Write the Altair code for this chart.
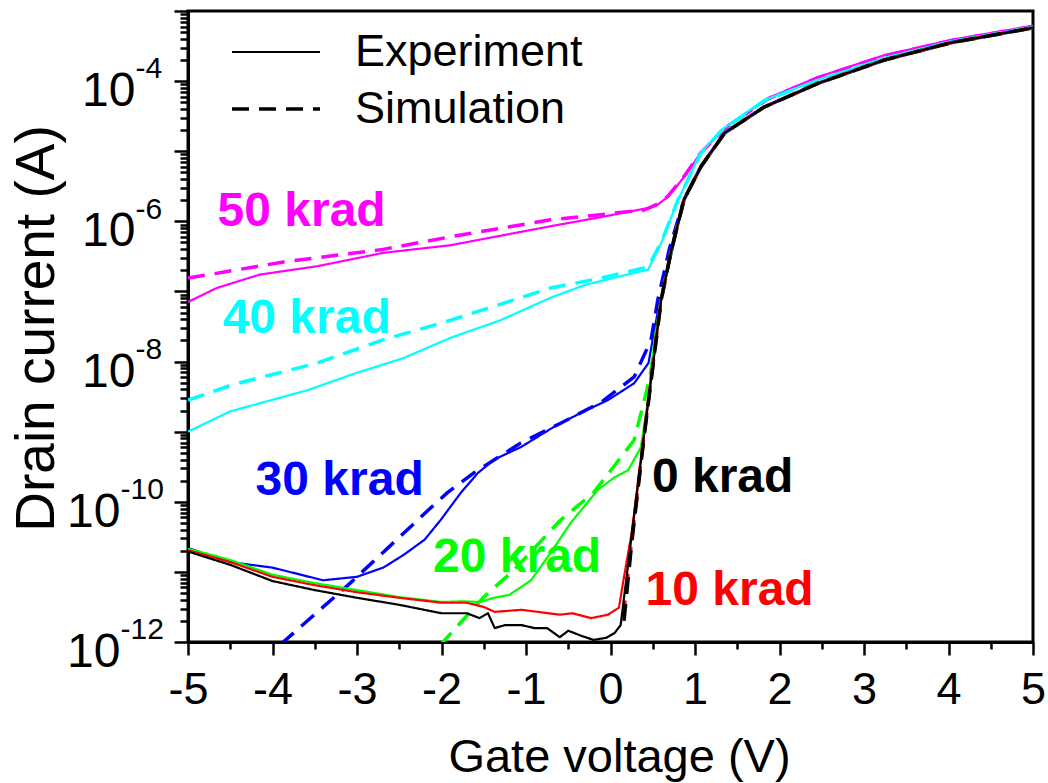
import altair as alt
import pandas as pd

# ---------------- data (gate voltage V, drain current A) ----------------
DOSES = ["0 krad", "10 krad", "20 krad", "30 krad", "40 krad", "50 krad"]
COLORS = ["#000000", "#ff0000", "#00ff00", "#0000ff", "#00ffff", "#ff00ff"]
KINDS = ["Experiment", "Simulation"]

# common above-threshold branch (curves merge there)
U_V = [0.6, 0.72, 0.87, 1.07, 1.35, 1.82, 2.46, 3.24, 4.04, 5.0]
U_I = [7.59e-8, 3.89e-7, 2.04e-6, 6.03e-6, 1.82e-5, 4.27e-5, 9.33e-5, 2.00e-4, 3.55e-4, 5.75e-4]

exp0_V = [-5, -4.5, -4, -3.5, -3, -2.5, -2, -1.7, -1.55, -1.45, -1.37, -1.25, -1.05, -0.9, -0.75,
          -0.6, -0.5, -0.35, -0.2, -0.05, 0.05, 0.12, 0.25, 0.39, 0.48]
exp0_I = [1.95e-11, 1.26e-11, 7.4e-12, 5.5e-12, 4.27e-12, 3.39e-12, 2.57e-12, 2.57e-12, 2.19e-12,
          2.57e-12, 1.58e-12, 1.74e-12, 1.74e-12, 1.58e-12, 1.58e-12, 1.17e-12, 1.45e-12, 1.23e-12,
          1.07e-12, 1.15e-12, 1.35e-12, 1.74e-12, 3.24e-11, 7.59e-10, 5.50e-9]

exp10_V = [-5, -4.5, -4, -3.5, -3, -2.5, -2, -1.7, -1.5, -1.37, -1.05, -0.6, -0.45, -0.23, -0.03,
           0.1, 0.16, 0.25, 0.39, 0.48]
exp10_I = [2.04e-11, 1.38e-11, 8.51e-12, 6.46e-12, 5.13e-12, 4.27e-12, 3.63e-12, 3.63e-12, 3.16e-12,
           2.69e-12, 2.88e-12, 2.45e-12, 2.57e-12, 2.19e-12, 2.45e-12, 3.09e-12, 8.51e-12, 3.55e-11,
           7.94e-10, 5.75e-9]

exp20_V = [-5, -4.5, -4, -3.5, -3, -2.5, -2, -1.75, -1.54, -1.38, -1.2, -0.94, -0.71, -0.47, -0.15,
           0.05, 0.21, 0.36, 0.45, 0.52]
exp20_I = [2.14e-11, 1.48e-11, 9.12e-12, 6.92e-12, 5.50e-12, 4.37e-12, 3.72e-12, 3.80e-12, 3.72e-12,
           4.27e-12, 4.68e-12, 7.59e-12, 1.86e-11, 5.01e-11, 1.48e-10, 2.24e-10, 2.82e-10, 6.03e-10,
           3.16e-9, 2.0e-8]

exp30_V = [-5, -4.5, -4, -3.5, -3.4, -3.0, -2.69, -2.45, -2.2, -2.01, -1.77, -1.57, -1.38, -1.06,
           -0.67, -0.35, -0.03, 0.28, 0.45, 0.55]
exp30_I = [2.19e-11, 1.38e-11, 1.15e-11, 8.13e-12, 7.59e-12, 8.51e-12, 1.15e-11, 1.74e-11, 2.88e-11,
           5.50e-11, 1.35e-10, 2.57e-10, 3.98e-10, 6.03e-10, 1.17e-9, 1.86e-9, 2.82e-9, 4.90e-9,
           9.55e-9, 4.47e-8]

exp40_V = [-5, -4.5, -3.59, -3.0, -2.45, -1.89, -1.3, -0.71, -0.31, 0.09, 0.445, 0.6, 0.8, 1.07,
           1.31, 1.82, 2.46, 3.24, 4.04, 5.0]
exp40_I = [1.0e-9, 1.95e-9, 3.89e-9, 6.92e-9, 1.12e-8, 2.19e-8, 3.89e-8, 8.13e-8, 1.23e-7, 1.62e-7,
           2.04e-7, 4.90e-7, 2.04e-6, 9.55e-6, 2.00e-5, 5.37e-5, 1.05e-4, 2.14e-4, 3.72e-4, 5.89e-4]

exp50_V = [-5, -4.66, -4.15, -3.47, -2.69, -1.89, -0.71, -0.11, 0.48, 0.55, 0.68, 0.87, 1.07, 1.39,
           1.87, 2.46, 3.24, 4.04, 5.0]
exp50_I = [7.08e-8, 1.12e-7, 1.74e-7, 2.29e-7, 3.55e-7, 4.57e-7, 8.51e-7, 1.15e-6, 1.58e-6, 1.70e-6,
           2.24e-6, 4.27e-6, 9.55e-6, 2.34e-5, 5.75e-5, 1.15e-4, 2.34e-4, 3.89e-4, 6.17e-4]

sim0_V = [0.16, 0.25, 0.39, 0.48]
sim0_I = [2.0e-12, 2.51e-11, 7.08e-10, 5.25e-9]

sim10_V = [0.15, 0.25, 0.39, 0.48]
sim10_I = [2.24e-12, 2.82e-11, 7.59e-10, 5.50e-9]

sim20_V = [-2.02, -1.5, -1.14, -0.59, -0.2, 0.28, 0.4, 0.47]
sim20_I = [8.91e-13, 4.37e-12, 1.07e-11, 5.50e-11, 1.35e-10, 7.59e-10, 2.82e-9, 6.31e-9]

sim30_V = [-3.9, -3.08, -2.13, -1.93, -1.62, -1.06, -0.59, -0.11, 0.28, 0.48, 0.56, 0.7, 0.87,
           1.07, 1.35, 1.82, 2.46, 3.24, 4.04, 5.0]
sim30_I = [9.33e-13, 6.92e-12, 8.13e-11, 1.35e-10, 2.57e-10, 6.92e-10, 1.32e-9, 2.63e-9, 6.03e-9,
           2.04e-8, 7.59e-8, 4.17e-7, 2.04e-6, 6.03e-6, 1.82e-5, 4.27e-5, 9.33e-5, 2.00e-4, 3.55e-4,
           5.75e-4]

sim40_V = [-5, -4.47, -3.47, -2.69, -1.89, -0.71, -0.11, 0.445, 0.6, 0.8, 1.07, 1.31, 1.82, 2.46,
           3.24, 4.04, 5.0]
sim40_I = [2.82e-9, 4.68e-9, 9.55e-9, 2.04e-8, 3.89e-8, 1.12e-7, 1.55e-7, 2.24e-7, 5.01e-7, 2.04e-6,
           9.33e-6, 1.95e-5, 5.25e-5, 1.02e-4, 2.09e-4, 3.63e-4, 5.89e-4]

sim50_V = [-5, -3.87, -2.69, -1.89, -0.71, 0.4, 0.55, 0.68, 0.87, 1.07, 1.39, 1.87, 2.46, 3.24,
           4.04, 5.0]
sim50_I = [1.55e-7, 2.63e-7, 3.98e-7, 6.03e-7, 1.05e-6, 1.45e-6, 1.74e-6, 2.29e-6, 4.37e-6,
           9.55e-6, 2.29e-5, 5.62e-5, 1.12e-4, 2.29e-4, 3.80e-4, 6.03e-4]

# curve annotations (text, dose, anchor V, anchor I)
ANN_TEXT = ["50 krad", "40 krad", "30 krad", "20 krad", "0 krad", "10 krad"]
ANN_V = [-4.65, -4.59, -4.2, -2.1, 0.49, 0.415]
ANN_I = [1.35e-6, 4.0e-8, 2.0e-10, 1.6e-11, 2.2e-10, 5.3e-12]

# ---------------- build tables ----------------
series = [
    ("50 krad", "Simulation", sim50_V, sim50_I),
    ("50 krad", "Experiment", exp50_V, exp50_I),
    ("40 krad", "Simulation", sim40_V, sim40_I),
    ("40 krad", "Experiment", exp40_V, exp40_I),
    ("30 krad", "Simulation", sim30_V, sim30_I),
    ("30 krad", "Experiment", exp30_V + U_V[2:], exp30_I + U_I[2:]),
    ("20 krad", "Simulation", sim20_V + U_V, sim20_I + U_I),
    ("20 krad", "Experiment", exp20_V + U_V, exp20_I + U_I),
    ("10 krad", "Simulation", sim10_V + U_V, sim10_I + U_I),
    ("10 krad", "Experiment", exp10_V + U_V, exp10_I + U_I),
    ("0 krad", "Simulation", sim0_V + U_V, sim0_I + U_I),
    ("0 krad", "Experiment", exp0_V + U_V, exp0_I + U_I),
]
rows = []
for k, (dose, kind, vs, cur) in enumerate(series):
    for v, i in zip(vs, cur):
        rows.append({"V": v, "I": i, "dose": dose, "kind": kind, "lw": kind,
                     "series": f"{k:02d}"})
df = pd.DataFrame(rows)

ann = pd.DataFrame({"label": ANN_TEXT, "dose": ANN_TEXT, "V": ANN_V, "I": ANN_I})

XTICKS = [i / 2 for i in range(-10, 11)]
YTICKS = [float(f"1e{e}") for e in range(-12, -2)] + [
    float(f"{m}e{e}") for e in range(-12, -3) for m in range(2, 10)]
YEXP = [1e-12, 1e-10, 1e-8, 1e-6, 1e-4]

FONT = "Liberation Sans"
is_major = "abs(log(datum.value)/LN10 - round(log(datum.value)/LN10)) < 0.001"
is_even = "(" + is_major + ") && (round(log(datum.value)/LN10) % 2 == 0)"

xscale = alt.Scale(domain=[-5, 5], nice=False, zero=False)
yscale = alt.Scale(type="log", domain=[1e-12, 1e-3], nice=False)
cscale = alt.Scale(domain=DOSES, range=COLORS)


def make_xaxis():
    return alt.Axis(
        values=XTICKS,
        labelExpr="datum.value % 1 == 0 ? '' + datum.value : ''",
        tickSize={"condition": {"test": "datum.value % 1 == 0", "value": 13}, "value": 7},
        tickWidth=2.5, tickColor="black", domainColor="black", domainWidth=3,
        labelFontSize=45, labelColor="black", labelPadding=12, labelFlush=False,
        labelOverlap=False, grid=False, labelFont=FONT,
        title="Gate voltage (V)", titleFontSize=47, titleFontWeight="normal", titleColor="black",
        titleFont=FONT, titleX=431, titleY=129, titleBaseline="alphabetic", titleAlign="center",
    )


yaxis = alt.Axis(
    values=YTICKS,
    labelExpr=is_even + " ? '10' : ''",
    tickSize={"condition": {"test": is_major, "value": 14}, "value": 8},
    tickWidth=2.5, tickColor="black", domainColor="black", domainWidth=3,
    labelFontSize=48, labelColor="black", labelAlign="right", labelBaseline="middle",
    labelPadding={"condition": {"test": "datum.value < 1e-9", "value": 54}, "value": 39},
    labelOffset=10.5, labelFlush=False, labelOverlap=False, grid=False, labelFont=FONT,
    title="Drain current (A)", titleFontSize=55, titleFontWeight="normal", titleColor="black",
    titleFont=FONT, titleX=-135, titleY=317, titleAngle=270, titleBaseline="alphabetic",
    titleAlign="center",
)

# exponents of the 10^n tick labels, set as superscripts just right of the "10"
yexp_axis = alt.Axis(
    orient="left", values=YEXP,
    labelExpr="'' + round(log(datum.value)/LN10)",
    ticks=False, domain=False, grid=False,
    labelFontSize=30, labelColor="black", labelAlign="left", labelBaseline="middle",
    labelPadding={"condition": {"test": "datum.value < 1e-9", "value": 68}, "value": 53},
    labelOffset=-12.3, labelFlush=False, labelOverlap=False, labelFont=FONT,
    title=None,
)

lines = alt.Chart(df).mark_line(clip=True, strokeCap="butt", strokeJoin="round").encode(
    x=alt.X("V:Q", scale=xscale, axis=make_xaxis()),
    y=alt.Y("I:Q", scale=yscale, axis=yaxis),
    color=alt.Color("dose:N", scale=cscale, legend=None),
    strokeDash=alt.StrokeDash(
        "kind:N",
        scale=alt.Scale(domain=KINDS, range=[[1, 0], [17, 10]]),
        legend=alt.Legend(
            orient="none", legendX=42, legendY=13, title=None, padding=0,
            symbolType="stroke", symbolSize=7744, symbolStrokeWidth=3,
            symbolStrokeColor="black", labelFontSize=45, labelColor="black",
            labelFont=FONT, labelOffset=33, rowPadding=1, labelLimit=0, clipHeight=56,
        ),
    ),
    strokeWidth=alt.StrokeWidth(
        "lw:N", scale=alt.Scale(domain=KINDS, range=[2.2, 3.5]), legend=None),
    detail="series:N",
)

annot = alt.Chart(ann).mark_text(
    align="left", baseline="middle", fontSize=48, fontWeight="bold", font=FONT
).encode(
    x=alt.X("V:Q", scale=xscale, axis=make_xaxis()),
    y=alt.Y("I:Q", scale=yscale, axis=yexp_axis),
    color=alt.Color("dose:N", scale=cscale, legend=None),
    text="label:N",
)

chart = (
    alt.layer(lines, annot)
    .resolve_axis(y="independent", x="shared")
    .properties(
        width=845, height=631,
        autosize=alt.AutoSizeParams(type="none"),
        padding={"left": 188, "top": 11, "right": 15, "bottom": 141},
        background="white",
    )
    .configure(font=FONT)
    .configure_view(stroke="black", strokeWidth=3)
    .configure_mark(color="black")
)

chart.save("out.html", embed_options={"renderer": "svg", "actions": False})
